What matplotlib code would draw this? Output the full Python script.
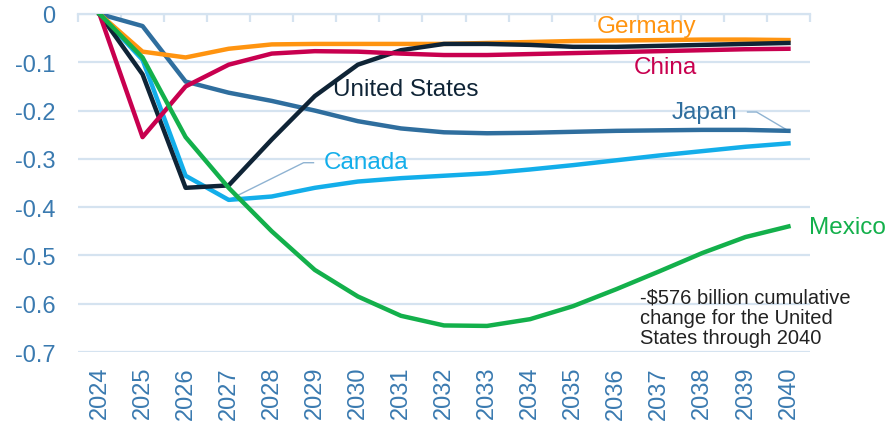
import matplotlib
matplotlib.use("Agg")
import matplotlib.pyplot as plt
import numpy as np

plt.rcParams['font.family'] = ['Liberation Sans', 'DejaVu Sans']

years = [str(y) for y in range(2024, 2041)]

germany = [0, -0.078, -0.090, -0.072, -0.063, -0.062, -0.062, -0.062, -0.062,
           -0.060, -0.058, -0.056, -0.055, -0.054, -0.053, -0.053, -0.054]
china = [0, -0.255, -0.150, -0.105, -0.082, -0.077, -0.078, -0.082, -0.085,
         -0.085, -0.083, -0.081, -0.079, -0.077, -0.075, -0.073, -0.072]
united_states = [0, -0.125, -0.360, -0.355, -0.260, -0.170, -0.105, -0.075, -0.062,
                 -0.062, -0.064, -0.068, -0.068, -0.066, -0.064, -0.062, -0.060]
japan = [0, -0.025, -0.140, -0.163, -0.180, -0.200, -0.222, -0.237, -0.245,
         -0.247, -0.246, -0.244, -0.242, -0.241, -0.240, -0.240, -0.242]
canada = [0, -0.095, -0.335, -0.385, -0.378, -0.360, -0.347, -0.340, -0.335,
          -0.330, -0.322, -0.313, -0.303, -0.293, -0.284, -0.275, -0.268]
mexico = [0, -0.090, -0.255, -0.360, -0.450, -0.530, -0.585, -0.625, -0.645,
          -0.646, -0.632, -0.605, -0.570, -0.533, -0.495, -0.462, -0.440]

yticks = [0, -0.1, -0.2, -0.3, -0.4, -0.5, -0.6, -0.7]
ytick_labels = ['0', '-0.1', '-0.2', '-0.3', '-0.4', '-0.5', '-0.6', '-0.7']

axis_col = '#3A7AB0'
grid_col = '#D5E3F0'
lead_col = '#8FB3D2'

fig = plt.figure(figsize=(8.9, 4.27), dpi=100)
ax = fig.add_axes([0.0876, 0.1733, 0.8225, 0.7916])

x = np.arange(len(years))
ax.plot(x, japan, color='#2F6E9E', lw=3.2, solid_joinstyle='round', zorder=3)
ax.plot(x, canada, color='#13AEEA', lw=3.2, solid_joinstyle='round', zorder=3)
ax.plot(x, united_states, color='#0F2436', lw=3.2, solid_joinstyle='round', zorder=4)
ax.plot(x, germany, color='#FF9410', lw=3.2, solid_joinstyle='round', zorder=3)
ax.plot(x, china, color='#C8004F', lw=3.2, solid_joinstyle='round', zorder=4)
ax.plot(x, mexico, color='#13B04B', lw=3.2, solid_joinstyle='round', zorder=5)

ax.set_xlim(-0.5, len(years) - 0.5)
ax.set_ylim(-0.7, 0)
ax.set_yticks(yticks)
ax.set_yticklabels(ytick_labels)
ax.set_xticks(x)
ax.set_xticklabels(years, rotation=90)
ax.set_xticks(np.arange(-0.5, len(years), 1), minor=True)

ax.yaxis.grid(True, color=grid_col, lw=1.6)
ax.set_axisbelow(True)
for s in ['left', 'right', 'bottom']:
    ax.spines[s].set_visible(False)
ax.spines['top'].set_color(grid_col)
ax.spines['top'].set_linewidth(1.6)

ax.tick_params(axis='y', length=0, pad=16, labelsize=17, labelcolor=axis_col)
ax.tick_params(axis='x', which='major', length=0, pad=10, labelsize=17, labelcolor=axis_col)
ax.tick_params(axis='x', which='minor', top=True, bottom=False, direction='in',
               length=6, width=1.6, color=grid_col)

# series labels
fs = 17.5
ax.text(12.7, -0.025, 'Germany', color='#FF9410', fontsize=fs, ha='center', va='center')
ax.text(13.15, -0.11, 'China', color='#C8004F', fontsize=fs, ha='center', va='center')
ax.text(5.43, -0.155, 'United States', color='#0F2436', fontsize=fs, ha='left', va='center')
ax.text(13.28, -0.203, 'Japan', color='#2F6E9E', fontsize=fs, ha='left', va='center')
ax.plot([15.05, 15.26, 16.0], [-0.203, -0.203, -0.242], color=lead_col, lw=1, zorder=2)
ax.text(5.2, -0.306, 'Canada', color='#13AEEA', fontsize=fs, ha='left', va='center')
ax.plot([4.97, 4.74, 3.0], [-0.308, -0.308, -0.385], color=lead_col, lw=1, zorder=2)
ax.text(16.47, -0.441, 'Mexico', color='#13B04B', fontsize=fs, ha='left', va='center',
        clip_on=False)

ax.text(12.56, -0.566, '-$576 billion cumulative\nchange for the United\nStates through 2040',
        color='#222222', fontsize=14.5, ha='left', va='top', linespacing=1.1)

fig.savefig('out.png', dpi=100)
